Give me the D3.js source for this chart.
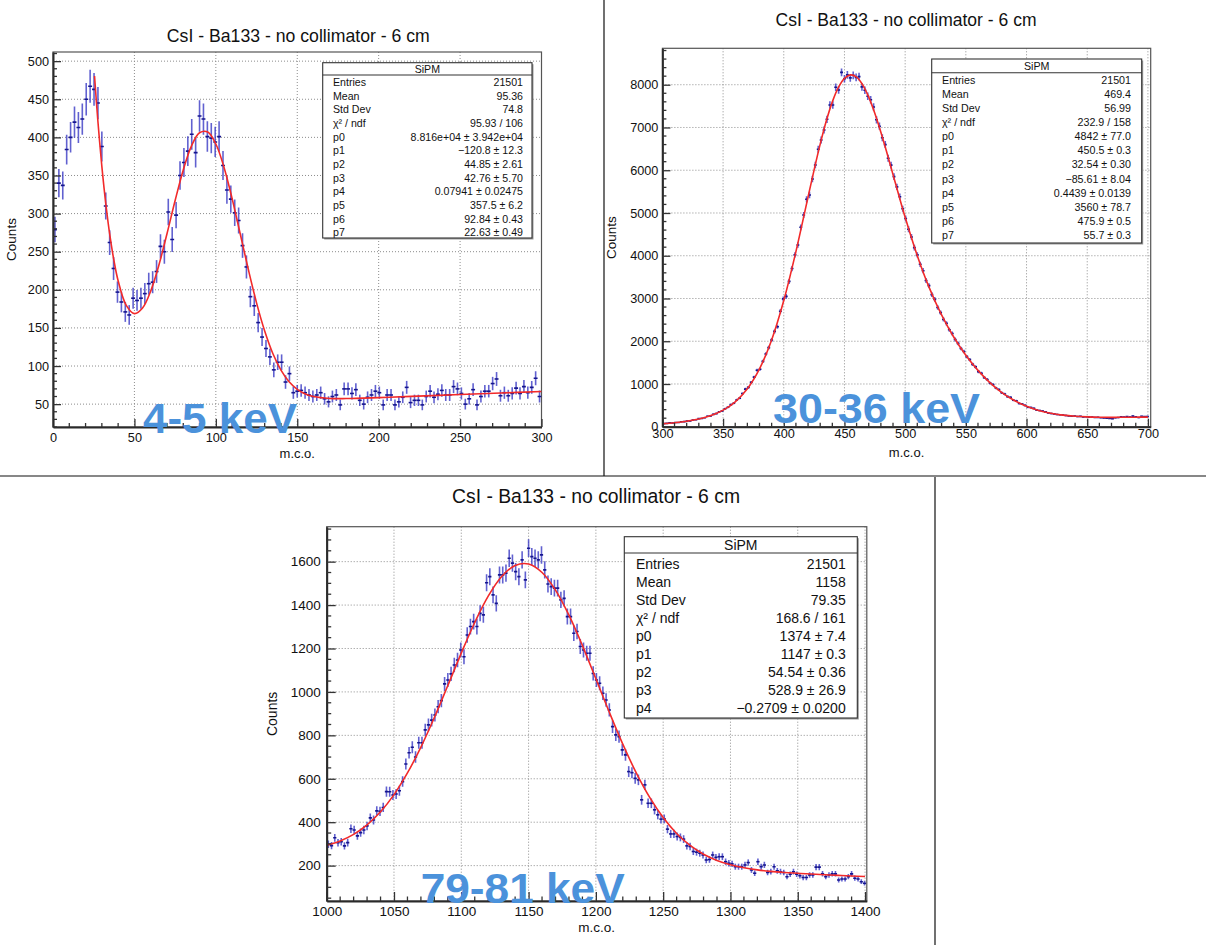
<!DOCTYPE html>
<html><head><meta charset="utf-8">
<script src="https://cdn.jsdelivr.net/npm/d3@7"></script>
<style>
body{margin:0;background:#fff}
svg{display:block}
text{font-family:"Liberation Sans",Arial,Helvetica,sans-serif}
</style>
</head><body>
<svg id="c" width="1206" height="945"></svg>
<script>
// ---------------- data ----------------
const titleText = "CsI - Ba133 - no collimator - 6 cm";
const xTitle = "m.c.o.";
const yTitle = "Counts";
const statsHeader = "SiPM";

// Panel 1 (4-5 keV)
const p1Energy = "4-5 keV";
const p1BinStart = 0, p1BinWidth = 2.4;
const p1Counts = [279,340,337,384,400,420,413,424,450,467,463,445,388,310,262,228,197,184,171,167,
  189,186,189,195,208,210,224,257,250,302,266,298,350,367,382,404,380,428,424,401,
  399,394,401,363,331,319,301,291,258,230,191,179,157,138,123,112,95,105,105,79,
  90,65,67,68,65,62,60,62,65,57,53,60,62,49,70,70,64,69,55,50,
  59,62,67,65,49,62,62,49,53,59,72,52,55,55,49,60,67,59,63,68,
  62,62,73,70,64,50,57,69,49,60,67,67,77,83,61,65,61,64,71,64,
  73,65,72,84,60];
const p1FitX = [25.5,27.5,30,32.5,35,37.5,40,45,50,55,60,65,70,75,80,85,90,95,100,105,110,115,120,125,130,135,140,145,150,155,160,170,180,200,220,250,275,300];
const p1FitY = [480.5,423.1,361.9,311.5,270.3,237.5,211.9,179.6,168.8,176.1,198.3,232.1,273.5,317.1,357.3,388.6,406.0,407.0,391.3,360.9,319.7,273.2,226.3,182.9,146.0,116.5,94.7,79.4,69.4,63.3,59.9,57.4,57.3,58.6,60.2,62.6,64.6,66.6];
const p1XTicks = [0,50,100,150,200,250,300];
const p1YTicks = [50,100,150,200,250,300,350,400,450,500];
const p1StatLabels = ["Entries","Mean","Std Dev","χ² / ndf","p0","p1","p2","p3","p4","p5","p6","p7"];
const p1StatValues = ["21501","95.36","74.8","95.93 / 106","8.816e+04 ± 3.942e+04","\u2212120.8 ± 12.3","44.85 ± 2.61","42.76 ± 5.70","0.07941 ± 0.02475","357.5 ± 6.2","92.84 ± 0.43","22.63 ± 0.49"];

// Panel 2 (30-36 keV)
const p2Energy = "30-36 keV";
const p2BinStart = 300, p2BinWidth = 2.4;
const p2Counts = [74,80,92,88,101,98,116,119,136,138,
  158,165,190,194,212,246,251,290,308,352,
  371,421,455,518,548,627,668,776,880,920,
  1040,1160,1320,1345,1530,1700,1850,2030,2230,2340,
  2700,2990,3050,3400,3700,4020,4250,4665,4953,5320,
  5421,5795,6123,6490,6708,6942,7191,7526,7526,7940,
  7877,8290,8140,8230,8160,8220,8170,8190,7950,7870,
  7730,7650,7480,7180,7030,6760,6600,6280,6120,5850,
  5610,5380,5100,4870,4620,4440,4190,4020,3800,3650,
  3420,3300,3090,2980,2790,2670,2510,2420,2270,2180,
  2040,1950,1830,1760,1640,1570,1460,1400,1290,1250,
  1150,1105,1020,985,905,870,795,765,705,690,
  620,605,545,530,500,455,450,430,388,380,
  365,348,322,310,300,288,280,276,262,255,
  244,250,238,242,230,234,226,225,218,220,
  212,205,200,195,190,210,215,230,225,236,
  228,248,230,215,242,238,240];
const p2FitX = [300,310,320,330,340,350,360,370,380,390,400,410,415,420,425,430,435,440,445,450,455,460,465,470,475,480,485,490,495,500,510,520,530,540,550,560,570,580,590,600,610,620,630,640,650,660,670,680,690,700];
const p2FitY = [72,95,129,181,262,388,584,890,1355,2031,2951,4096,4727,5373,6010,6610,7150,7599,7937,8150,8230,8177,7997,7709,7332,6888,6403,5898,5392,4900,4002,3242,2616,2100,1673,1319,1028,794,614,478,382,315,272,245,230,223,220,221,223,226];
const p2XTicks = [300,350,400,450,500,550,600,650,700];
const p2YTicks = [0,1000,2000,3000,4000,5000,6000,7000,8000];
const p2StatLabels = ["Entries","Mean","Std Dev","χ² / ndf","p0","p1","p2","p3","p4","p5","p6","p7"];
const p2StatValues = ["21501","469.4","56.99","232.9 / 158","4842 ± 77.0","450.5 ± 0.3","32.54 ± 0.30","\u221285.61 ± 8.04","0.4439 ± 0.0139","3560 ± 78.7","475.9 ± 0.5","55.7 ± 0.3"];

// Panel 3 (79-81 keV)
const p3Energy = "79-81 keV";
const p3BinStart = 1000, p3BinWidth = 2.4;
const p3Counts = [298,292,328,305,310,291,306,370,364,337,
  352,364,383,420,410,452,450,468,541,540,
  525,530,545,587,668,720,745,700,766,766,
  825,848,870,894,932,960,1037,1055,1083,1124,
  1147,1193,1162,1262,1301,1324,1301,1362,1355,1503,
  1531,1447,1408,1539,1539,1547,1616,1593,1554,1531,
  1608,1516,1662,1623,1616,1608,1631,1562,1497,1485,
  1478,1478,1424,1431,1347,1347,1270,1278,1209,1193,
  1178,1178,1085,1055,1040,994,963,917,840,802,
  794,733,710,633,628,602,595,503,572,487,
  487,457,434,414,415,368,346,346,334,330,
  322,291,288,265,262,257,249,226,228,249,
  238,241,241,218,211,208,195,195,195,203,
  214,180,165,218,195,203,168,172,195,176,
  172,168,149,160,172,160,153,145,145,157,
  157,193,193,162,149,157,162,162,134,138,
  138,149,162,142,138,126,119];
const p3FitX = [1000,1010,1020,1030,1040,1050,1060,1070,1080,1090,1100,1110,1120,1130,1140,1150,1160,1170,1180,1190,1200,1210,1220,1230,1240,1250,1260,1270,1280,1290,1300,1310,1320,1330,1340,1350,1360,1370,1380,1390,1400];
const p3FitY = [294.4,313.9,343.9,387.6,447.8,527.1,626.7,746.2,882.4,1029.4,1178.8,1319.7,1441.1,1531.7,1582.8,1589.3,1550.2,1469.1,1353.4,1213.5,1060.6,906.2,759.4,627.3,514.1,421.3,348.2,292.9,252.4,223.7,203.6,189.8,180.3,173.5,168.5,164.5,161.1,158.1,155.2,152.4,149.7];
const p3XTicks = [1000,1050,1100,1150,1200,1250,1300,1350,1400];
const p3YTicks = [200,400,600,800,1000,1200,1400,1600];
const p3StatLabels = ["Entries","Mean","Std Dev","χ² / ndf","p0","p1","p2","p3","p4"];
const p3StatValues = ["21501","1158","79.35","168.6 / 161","1374 ± 7.4","1147 ± 0.3","54.54 ± 0.36","528.9 ± 26.9","\u22120.2709 ± 0.0200"];

// ---------------- layout ----------------
const panels = [
  {id:1, left:53, right:541.5, top:52, bottom:427, xDomain:[0,300], yDomain:[20,512],
   xTicks:p1XTicks, yTicks:p1YTicks, xMinor:10, yMinor:10, majorLen:8, minorLen:4,
   counts:p1Counts, binStart:p1BinStart, binWidth:p1BinWidth, fitX:p1FitX, fitY:p1FitY,
   tickFont:12.7, xPad:6, yPad:4,
   title:{x:298.3, y:41.7, size:17.7, len:263},
   xLab:{y:458, size:13}, yLab:{x:16, size:13.5},
   stats:{x0:322.7, x1:532, y0:62.7, y1:238, hy:75, lx:333, rx:523, r0:82.3, step:13.67, size:10.6, labels:p1StatLabels, values:p1StatValues},
   energy:{text:p1Energy, x:143, y:433, len:154, size:43}},
  {id:2, left:662.4, right:1150.7, top:48.3, bottom:426.75, xDomain:[300,702.3], yDomain:[0,8852],
   xTicks:p2XTicks, yTicks:p2YTicks, xMinor:10, yMinor:200, majorLen:8, minorLen:4,
   counts:p2Counts, binStart:p2BinStart, binWidth:p2BinWidth, fitX:p2FitX, fitY:p2FitY,
   tickFont:12.7, xPad:2, yPad:4,
   title:{x:906, y:26, size:17.5, len:261},
   xLab:{y:456.7, size:13}, yLab:{x:616, size:13.5},
   stats:{x0:931.7, x1:1141.7, y0:59, y1:243, hy:72.7, lx:942, rx:1131, r0:80, step:14.1, size:10.7, labels:p2StatLabels, values:p2StatValues},
   energy:{text:p2Energy, x:773, y:423.3, len:207, size:43}},
  {id:3, left:326.7, right:866.8, top:526.7, bottom:901, xDomain:[1000,1401.3], yDomain:[37,1761],
   xTicks:p3XTicks, yTicks:p3YTicks, xMinor:10, yMinor:50, majorLen:9, minorLen:4.5,
   counts:p3Counts, binStart:p3BinStart, binWidth:p3BinWidth, fitX:p3FitX, fitY:p3FitY,
   tickFont:13.5, xPad:5.5, yPad:6,
   title:{x:596, y:503.3, size:19.3, len:288},
   xLab:{y:931.7, size:13.5}, yLab:{x:277, size:14},
   stats:{x0:624.3, x1:857.3, y0:536.7, y1:718, hy:553, lx:636, rx:845.7, r0:564, step:18, size:14, labels:p3StatLabels, values:p3StatValues},
   energy:{text:p3Energy, x:420.7, y:902.7, len:204, size:43}}
];

const svg = d3.select("#c");
svg.append("rect").attr("width",1206).attr("height",945).attr("fill","#fff");
const defs = svg.append("defs");

function drawPanel(cfg){
  const g = svg.append("g");
  const x = d3.scaleLinear().domain(cfg.xDomain).range([cfg.left, cfg.right]);
  const y = d3.scaleLinear().domain(cfg.yDomain).range([cfg.bottom, cfg.top]);
  const clipId = "clip" + cfg.id;
  defs.append("clipPath").attr("id", clipId).append("rect")
    .attr("x", cfg.left).attr("y", cfg.top)
    .attr("width", cfg.right - cfg.left).attr("height", cfg.bottom - cfg.top);

  // title
  g.append("text").attr("x", cfg.title.x).attr("y", cfg.title.y)
    .attr("text-anchor","middle").attr("font-size", cfg.title.size).attr("fill","#111")
    .attr("textLength", cfg.title.len).attr("lengthAdjust","spacingAndGlyphs")
    .text(titleText);

  // grid
  const gx = cfg.xTicks.filter(v => x(v) > cfg.left + 1 && x(v) < cfg.right - 1);
  const gy = cfg.yTicks.filter(v => y(v) < cfg.bottom - 1 && y(v) > cfg.top + 1);
  const grid = g.append("g").attr("stroke","#8c8c8c").attr("stroke-width",1).attr("stroke-dasharray","1,2");
  grid.selectAll("line.gx").data(gx).join("line").attr("class","gx")
    .attr("x1", d => x(d)).attr("x2", d => x(d)).attr("y1", cfg.top).attr("y2", cfg.bottom);
  grid.selectAll("line.gy").data(gy).join("line").attr("class","gy")
    .attr("y1", d => y(d)).attr("y2", d => y(d)).attr("x1", cfg.left).attr("x2", cfg.right);

  // frame
  g.append("rect").attr("x", cfg.left).attr("y", cfg.top)
    .attr("width", cfg.right - cfg.left).attr("height", cfg.bottom - cfg.top)
    .attr("fill","none").attr("stroke","#555").attr("stroke-width",1.2);

  // histogram with error bars
  const bins = cfg.counts.map((c, i) => ({
    x0: cfg.binStart + i * cfg.binWidth,
    x1: cfg.binStart + (i + 1) * cfg.binWidth,
    c: c, e: Math.sqrt(c)
  }));
  const dg = g.append("g").attr("clip-path", `url(#${clipId})`);
  dg.selectAll("line.ev").data(bins).join("line").attr("class","ev")
    .attr("x1", d => x((d.x0 + d.x1) / 2)).attr("x2", d => x((d.x0 + d.x1) / 2))
    .attr("y1", d => y(d.c - d.e)).attr("y2", d => y(d.c + d.e))
    .attr("stroke","#3a3ac4").attr("stroke-opacity",0.8).attr("stroke-width",1.6);
  dg.selectAll("line.eh").data(bins).join("line").attr("class","eh")
    .attr("x1", d => x(d.x0)).attr("x2", d => x(d.x1))
    .attr("y1", d => y(d.c)).attr("y2", d => y(d.c))
    .attr("stroke","#15158e").attr("stroke-width",1.6);

  // fit curve
  const fit = cfg.fitX.map((v, i) => [v, cfg.fitY[i]]);
  dg.append("path").datum(fit)
    .attr("d", d3.line().x(d => x(d[0])).y(d => y(d[1])).curve(d3.curveCatmullRom.alpha(0.5)))
    .attr("fill","none").attr("stroke","#f22a2a").attr("stroke-width",1.6);

  // axes
  const fmt = d3.format("d");
  const xAxis = d3.axisBottom(x).tickValues(cfg.xTicks).tickFormat(fmt)
    .tickSizeInner(-cfg.majorLen).tickSizeOuter(0).tickPadding(cfg.xPad);
  const yAxis = d3.axisLeft(y).tickValues(cfg.yTicks).tickFormat(fmt)
    .tickSizeInner(-cfg.majorLen).tickSizeOuter(0).tickPadding(cfg.yPad);
  const xg = g.append("g").attr("transform", `translate(0,${cfg.bottom})`).call(xAxis);
  const yg = g.append("g").attr("transform", `translate(${cfg.left},0)`).call(yAxis);
  [xg, yg].forEach(a => {
    a.select(".domain").attr("stroke","#2a2a2a").attr("stroke-width",2);
    a.selectAll(".tick line").attr("stroke","#333").attr("stroke-width",1.3);
    a.selectAll(".tick text").attr("font-size", cfg.tickFont).attr("fill","#111")
      .attr("font-family","'Liberation Sans',Arial,Helvetica,sans-serif");
  });

  // minor ticks
  const xm = d3.range(Math.ceil(cfg.xDomain[0] / cfg.xMinor) * cfg.xMinor, cfg.xDomain[1] + 1e-9, cfg.xMinor)
    .filter(v => !cfg.xTicks.includes(v));
  const ym = d3.range(Math.ceil(cfg.yDomain[0] / cfg.yMinor) * cfg.yMinor, cfg.yDomain[1] + 1e-9, cfg.yMinor)
    .filter(v => !cfg.yTicks.includes(v));
  const mg = g.append("g").attr("stroke","#333").attr("stroke-width",1.3);
  mg.selectAll("line.mx").data(xm).join("line").attr("class","mx")
    .attr("x1", d => x(d)).attr("x2", d => x(d))
    .attr("y1", cfg.bottom).attr("y2", cfg.bottom - cfg.minorLen);
  mg.selectAll("line.my").data(ym).join("line").attr("class","my")
    .attr("y1", d => y(d)).attr("y2", d => y(d))
    .attr("x1", cfg.left).attr("x2", cfg.left + cfg.minorLen);

  // axis titles
  g.append("text").attr("x", (cfg.left + cfg.right) / 2).attr("y", cfg.xLab.y)
    .attr("text-anchor","middle").attr("font-size", cfg.xLab.size).attr("fill","#111").text(xTitle);
  g.append("text").attr("transform", `translate(${cfg.yLab.x},${(cfg.top + cfg.bottom) / 2}) rotate(-90)`)
    .attr("text-anchor","middle").attr("font-size", cfg.yLab.size).attr("fill","#111").text(yTitle);

  // stats box
  const s = cfg.stats;
  const sg = g.append("g");
  sg.append("rect").attr("x", s.x0 + 1.5).attr("y", s.y0 + 1.5)
    .attr("width", s.x1 - s.x0).attr("height", s.y1 - s.y0).attr("fill","#999");
  sg.append("rect").attr("x", s.x0).attr("y", s.y0)
    .attr("width", s.x1 - s.x0).attr("height", s.y1 - s.y0)
    .attr("fill","#fff").attr("stroke","#333").attr("stroke-width",1.1);
  sg.append("line").attr("x1", s.x0).attr("x2", s.x1).attr("y1", s.hy).attr("y2", s.hy)
    .attr("stroke","#333").attr("stroke-width",1.1);
  sg.append("text").attr("x", (s.x0 + s.x1) / 2).attr("y", (s.y0 + s.hy) / 2).attr("dy","0.36em")
    .attr("text-anchor","middle").attr("font-size", s.size).attr("fill","#111").text(statsHeader);
  sg.selectAll("text.sl").data(s.labels).join("text").attr("class","sl")
    .attr("x", s.lx).attr("y", (d, i) => s.r0 + i * s.step).attr("dy","0.36em")
    .attr("font-size", s.size).attr("fill","#111").text(d => d);
  sg.selectAll("text.sv").data(s.values).join("text").attr("class","sv")
    .attr("x", s.rx).attr("y", (d, i) => s.r0 + i * s.step).attr("dy","0.36em")
    .attr("text-anchor","end").attr("font-size", s.size).attr("fill","#111").text(d => d);

  // energy label
  g.append("text").attr("x", cfg.energy.x).attr("y", cfg.energy.y)
    .attr("font-size", cfg.energy.size).attr("font-weight","bold").attr("fill","#4b92db")
    .attr("textLength", cfg.energy.len).attr("lengthAdjust","spacingAndGlyphs")
    .text(cfg.energy.text);
}

panels.forEach(drawPanel);

// screenshot separators
const sep = svg.append("g").attr("stroke","#111").attr("stroke-width",1.2);
sep.append("line").attr("x1",604).attr("x2",604).attr("y1",0).attr("y2",476);
sep.append("line").attr("x1",0).attr("x2",1206).attr("y1",476).attr("y2",476);
sep.append("line").attr("x1",935).attr("x2",935).attr("y1",477).attr("y2",945);
</script>
</body></html>
